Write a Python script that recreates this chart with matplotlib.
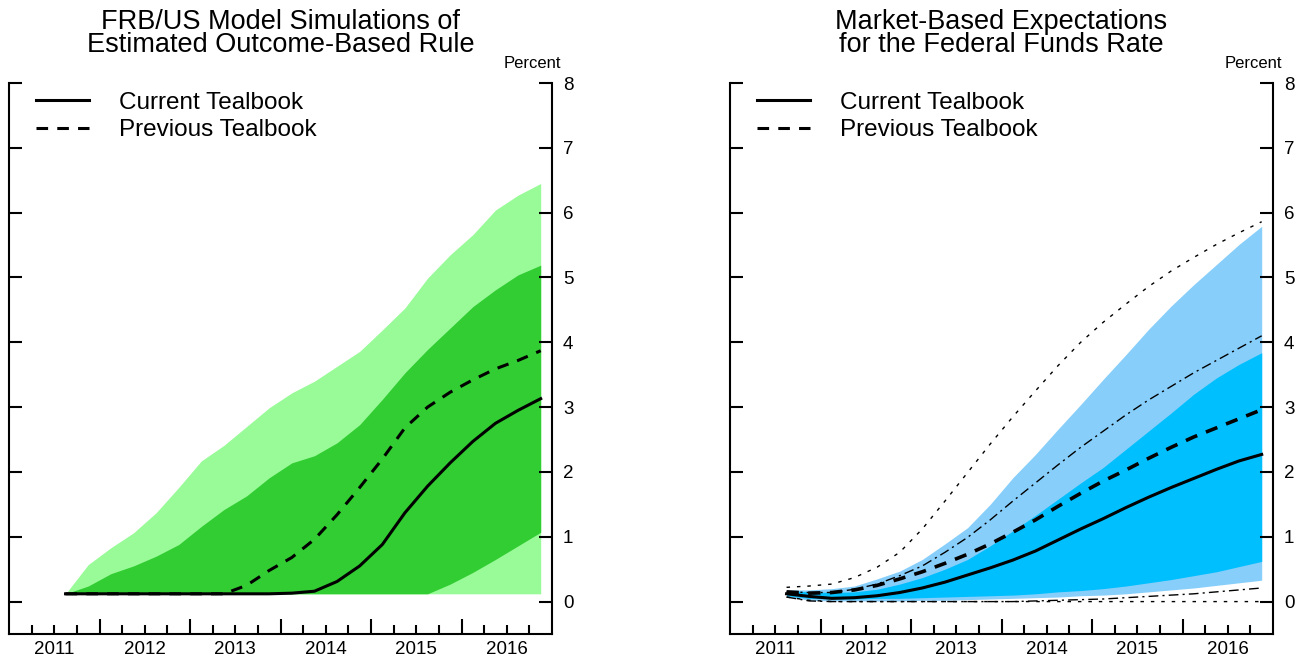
import numpy as np
import matplotlib
matplotlib.use('Agg')
import matplotlib.pyplot as plt
from matplotlib.lines import Line2D

plt.rcParams['font.family'] = ['Liberation Sans', 'DejaVu Sans']

# mid-quarter dates, 2011Q3 through 2016Q4
quarters = np.arange(2011.625, 2017.0, 0.25)
years = [2011, 2012, 2013, 2014, 2015, 2016]

# FRB/US simulations, percent
frb_current = [0.12, 0.12, 0.12, 0.12, 0.12, 0.12, 0.12, 0.12, 0.12, 0.12, 0.13,
               0.16, 0.31, 0.55, 0.88, 1.37, 1.78, 2.14, 2.47, 2.75, 2.95, 3.13]
frb_previous = [0.12, 0.12, 0.12, 0.12, 0.12, 0.12, 0.12, 0.12, 0.25, 0.48, 0.68,
                0.96, 1.34, 1.76, 2.20, 2.68, 3.00, 3.23, 3.42, 3.59, 3.72, 3.87]
frb_outer_hi = [0.12, 0.57, 0.83, 1.06, 1.37, 1.76, 2.17, 2.41, 2.70, 2.99, 3.22,
                3.40, 3.63, 3.86, 4.19, 4.53, 4.99, 5.35, 5.66, 6.04, 6.27, 6.45]
frb_inner_hi = [0.12, 0.24, 0.43, 0.55, 0.70, 0.88, 1.16, 1.42, 1.63, 1.91, 2.14,
                2.25, 2.45, 2.73, 3.12, 3.53, 3.89, 4.22, 4.55, 4.81, 5.04, 5.19]
frb_inner_lo = [0.12, 0.12, 0.12, 0.12, 0.12, 0.12, 0.12, 0.12, 0.12, 0.12, 0.12,
                0.12, 0.12, 0.12, 0.12, 0.12, 0.12, 0.27, 0.45, 0.65, 0.86, 1.07]
frb_outer_lo = [0.12] * 22

# market-based federal funds rate expectations, percent
mkt_current = [0.12, 0.08, 0.05, 0.06, 0.09, 0.14, 0.21, 0.30, 0.41, 0.52, 0.64,
               0.78, 0.95, 1.12, 1.28, 1.45, 1.61, 1.76, 1.90, 2.04, 2.17, 2.27]
mkt_previous = [0.15, 0.13, 0.14, 0.18, 0.25, 0.35, 0.46, 0.59, 0.73, 0.89, 1.07,
                1.26, 1.47, 1.67, 1.86, 2.03, 2.21, 2.38, 2.54, 2.68, 2.82, 2.96]
mkt_outer_hi = [0.18, 0.18, 0.20, 0.24, 0.35, 0.47, 0.65, 0.89, 1.14, 1.50, 1.91,
                2.27, 2.66, 3.04, 3.43, 3.81, 4.20, 4.56, 4.89, 5.20, 5.51, 5.79]
mkt_inner_hi = [0.17, 0.15, 0.14, 0.15, 0.19, 0.27, 0.37, 0.50, 0.65, 0.86, 1.09,
                1.33, 1.58, 1.83, 2.07, 2.35, 2.63, 2.91, 3.20, 3.45, 3.66, 3.84]
mkt_inner_lo = [0.09, 0.05, 0.04, 0.04, 0.05, 0.05, 0.06, 0.07, 0.08, 0.09, 0.10,
                0.12, 0.15, 0.17, 0.20, 0.24, 0.29, 0.34, 0.40, 0.46, 0.54, 0.62]
mkt_outer_lo = [0.08, 0.02, 0.01, 0.01, 0.01, 0.01, 0.02, 0.02, 0.03, 0.04, 0.05,
                0.06, 0.07, 0.09, 0.10, 0.12, 0.15, 0.18, 0.21, 0.25, 0.29, 0.33]
prev_band_hi = [0.22, 0.24, 0.27, 0.37, 0.53, 0.76, 1.12, 1.55, 1.99, 2.43, 2.85,
                3.25, 3.64, 4.00, 4.31, 4.59, 4.86, 5.10, 5.31, 5.51, 5.69, 5.86]
prev_inner_hi = [0.15, 0.14, 0.14, 0.19, 0.27, 0.40, 0.55, 0.76, 0.99, 1.26, 1.55,
                 1.83, 2.11, 2.38, 2.63, 2.88, 3.11, 3.32, 3.53, 3.72, 3.91, 4.10]
prev_inner_lo = [0.07, 0.01, 0.0, 0.0, 0.0, 0.0, 0.0, 0.0, 0.0, 0.0, 0.0,
                 0.01, 0.02, 0.03, 0.04, 0.06, 0.08, 0.10, 0.12, 0.15, 0.18, 0.21]
prev_band_lo = [0.07, 0.02, 0.0, 0.0, 0.0, 0.0, 0.0, 0.0, 0.0, 0.0, 0.0,
                0.0, 0.0, 0.0, 0.0, 0.0, 0.0, 0.0, 0.0, 0.0, 0.0, 0.0]

DASH = (3.8, 3.0)


def setup_axes(ax, title):
    ax.set_xlim(2011, 2017)
    ax.set_ylim(-0.5, 8)
    ax.spines['top'].set_visible(False)
    for s in ('left', 'right', 'bottom'):
        ax.spines[s].set_linewidth(1.5)

    ax.set_yticks(range(0, 9))
    ax.tick_params(axis='y', direction='in', left=True, right=True,
                   labelleft=False, labelright=True, length=9.5, width=1.5,
                   labelsize=13.5, pad=8)

    ax.set_xticks(years[1:], labels=[''] * 5)
    qpos = [y + q for y in years for q in (0.25, 0.5, 0.75)]
    qlab = [str(y) if q == 0.5 else '' for y in years for q in (0.25, 0.5, 0.75)]
    ax.set_xticks(qpos, labels=qlab, minor=True)
    ax.tick_params(axis='x', which='major', direction='in', length=10.5, width=1.5)
    ax.tick_params(axis='x', which='minor', direction='in', length=6.5, width=1.5,
                   labelsize=13.5, pad=5)

    ax.text(0.5, 1.134, title, transform=ax.transAxes, ha='center', va='top',
            fontsize=19.5, linespacing=0.85)
    ax.text(0.963, 1.036, 'Percent', transform=ax.transAxes, ha='center',
            va='center', fontsize=12)

    handles = [Line2D([], [], color='k', lw=2.2),
               Line2D([], [], color='k', lw=2.2, dashes=DASH)]
    ax.legend(handles, ['Current Tealbook', 'Previous Tealbook'],
              loc='upper left', bbox_to_anchor=(0.0497, 0.9837), frameon=False,
              fontsize=17.5, handlelength=2.2, handletextpad=1.2,
              labelspacing=0.22, borderpad=0, borderaxespad=0)


fig = plt.figure(figsize=(13.02, 6.58), dpi=100)
ax1 = fig.add_axes([9 / 1302, 24 / 658, 543 / 1302, 551 / 658])
ax2 = fig.add_axes([730 / 1302, 24 / 658, 543 / 1302, 551 / 658])

# left: FRB/US
ax1.fill_between(quarters, frb_outer_lo, frb_outer_hi, color='#98FB98', lw=0)
ax1.fill_between(quarters, frb_inner_lo, frb_inner_hi, color='#32CD32', lw=0)
ax1.plot(quarters, frb_previous, color='k', lw=2.2, dashes=DASH)
ax1.plot(quarters, frb_current, color='k', lw=2.2)
setup_axes(ax1, 'FRB/US Model Simulations of\nEstimated Outcome-Based Rule')

# right: market-based expectations
ax2.fill_between(quarters, mkt_outer_lo, mkt_outer_hi, color='#87CEFA', lw=0)
ax2.fill_between(quarters, mkt_inner_lo, mkt_inner_hi, color='#00BFFF', lw=0)
ax2.plot(quarters, prev_band_hi, color='k', lw=1.0, dashes=(2.5, 5))
ax2.plot(quarters, prev_band_lo, color='k', lw=1.0, dashes=(2.5, 5))
ax2.plot(quarters, prev_inner_hi, color='k', lw=1.0, dashes=(7, 3, 1.5, 3))
ax2.plot(quarters, prev_inner_lo, color='k', lw=1.0, dashes=(7, 3, 1.5, 3))
ax2.plot(quarters, mkt_previous, color='k', lw=2.6, dashes=(3.4, 2.6))
ax2.plot(quarters, mkt_current, color='k', lw=2.2)
setup_axes(ax2, 'Market-Based Expectations\nfor the Federal Funds Rate')

fig.savefig('out.png', dpi=100)
